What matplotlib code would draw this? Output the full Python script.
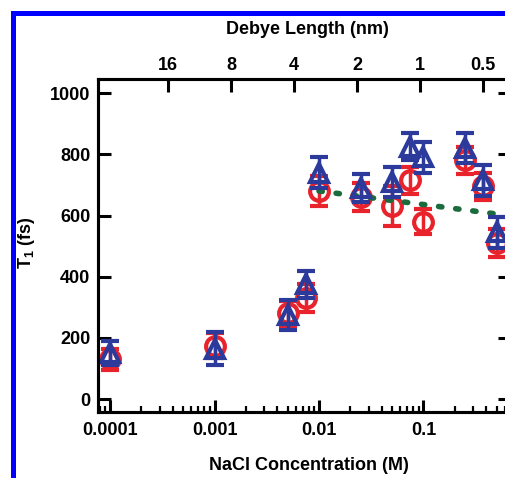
import matplotlib
matplotlib.use("Agg")
import matplotlib.pyplot as plt
from matplotlib.patches import Rectangle
from matplotlib.ticker import FixedLocator, NullLocator, LogLocator, NullFormatter

plt.rcParams['font.family'] = ['Liberation Sans', 'DejaVu Sans']
plt.rcParams['font.weight'] = 'bold'
plt.rcParams['mathtext.fontset'] = 'custom'
plt.rcParams['mathtext.rm'] = 'Liberation Sans:bold'
plt.rcParams['mathtext.bf'] = 'Liberation Sans:bold'
plt.rcParams['mathtext.it'] = 'Liberation Sans:bold'

# ---- data ----
conc = [0.0001, 0.001, 0.005, 0.0075, 0.01, 0.025, 0.05, 0.075, 0.1, 0.25, 0.375, 0.5]
red_t1 = [130, 175, 280, 330, 680, 660, 630, 715, 580, 780, 695, 510]
red_err = [35, 40, 40, 45, 50, 45, 65, 45, 40, 45, 45, 45]
blue_t1 = [150, 165, 275, 375, 740, 690, 710, 825, 790, 820, 715, 545]
blue_err = [40, 55, 50, 45, 50, 45, 50, 45, 50, 50, 50, 50]
fit_x = [0.01, 0.5]
fit_y = [680, 605]

debye_ticks = [16, 8, 4, 2, 1, 0.5]
debye_labels = ['16', '8', '4', '2', '1', '0.5']
yticks = [0, 200, 400, 600, 800, 1000]
xticks = [0.0001, 0.001, 0.01, 0.1]
xticklabels = ['0.0001', '0.001', '0.01', '0.1']

RED = '#e8232b'
BLUE = '#2c3a9c'
GREEN = '#1c6b3c'

W, H = 506, 478
fig = plt.figure(figsize=(W / 100, H / 100), dpi=100)

# blue frame
fig.patches.append(Rectangle((11 / W, 0), 5 / W, (H - 11) / H, transform=fig.transFigure,
                             facecolor='#0000ff', edgecolor='none'))
fig.patches.append(Rectangle((11 / W, (H - 16) / H), 1, 5 / H, transform=fig.transFigure,
                             facecolor='#0000ff', edgecolor='none'))

ax = fig.add_axes([98 / W, (H - 412) / H, (510 - 98) / W, (412 - 79) / H])
ax.set_xscale('log')
ax.set_xlim(7.67e-5, 0.673)
ax.set_ylim(-42, 1046)

ax.errorbar(conc, red_t1, yerr=red_err, color=RED, marker='o', markersize=13.5,
            markerfacecolor='none', markeredgewidth=3.0, ecolor=RED,
            linestyle='none', elinewidth=2.5, capsize=6.5, capthick=3.0, zorder=3)
ax.plot(fit_x, fit_y, color=GREEN, linewidth=4.0, linestyle=(0, (0.6, 2.5)),
        dash_capstyle='round', zorder=4)
ax.errorbar(conc, blue_t1, yerr=blue_err, color=BLUE, marker='^', markersize=13.5,
            markerfacecolor='none', markeredgewidth=3.0, ecolor=BLUE,
            linestyle='none', elinewidth=2.5, capsize=6.5, capthick=3.0, zorder=5)

for s in ax.spines.values():
    s.set_linewidth(2.2)

ax.set_yticks(yticks)
ax.set_yticklabels([str(v) for v in yticks])
ax.xaxis.set_major_locator(FixedLocator(xticks))
ax.set_xticklabels(xticklabels)
ax.xaxis.set_minor_locator(LogLocator(base=10, subs=range(2, 10), numticks=20))
ax.xaxis.set_minor_formatter(NullFormatter())
ax.tick_params(axis='x', which='major', direction='in', length=9, width=2.2,
               labelsize=13, pad=7, top=False)
ax.tick_params(axis='x', which='minor', direction='in', length=4.5, width=1.6, top=False)
ax.tick_params(axis='y', which='major', direction='in', length=9, width=2.2,
               labelsize=13, pad=5.5, right=True)
ax.yaxis.set_minor_locator(NullLocator())

ax2 = ax.twiny()
ax2.set_xscale('log')
ax2.set_xlim(ax.get_xlim())
conc_of_debye = [(0.304 / d) ** 2 for d in debye_ticks]
ax2.xaxis.set_major_locator(FixedLocator(conc_of_debye))
ax2.set_xticklabels(debye_labels)
ax2.xaxis.set_minor_locator(NullLocator())
ax2.tick_params(axis='x', which='major', direction='in', length=9, width=2.2,
                labelsize=13, pad=3.5)
for s in ax2.spines.values():
    s.set_linewidth(2.2)

fig.text(307 / W, 1 - 30 / H, 'Debye Length (nm)', ha='center', va='center',
         fontsize=13, fontweight='bold')
fig.text(309 / W, 1 - 466 / H, 'NaCl Concentration (M)', ha='center', va='center',
         fontsize=13, fontweight='bold')
fig.text(27 / W, 1 - 243 / H, r'T$_{\mathbf{1}}$ (fs)', ha='center', va='center',
         rotation=90, fontsize=13, fontweight='bold')

fig.savefig('out.png', dpi=100)
